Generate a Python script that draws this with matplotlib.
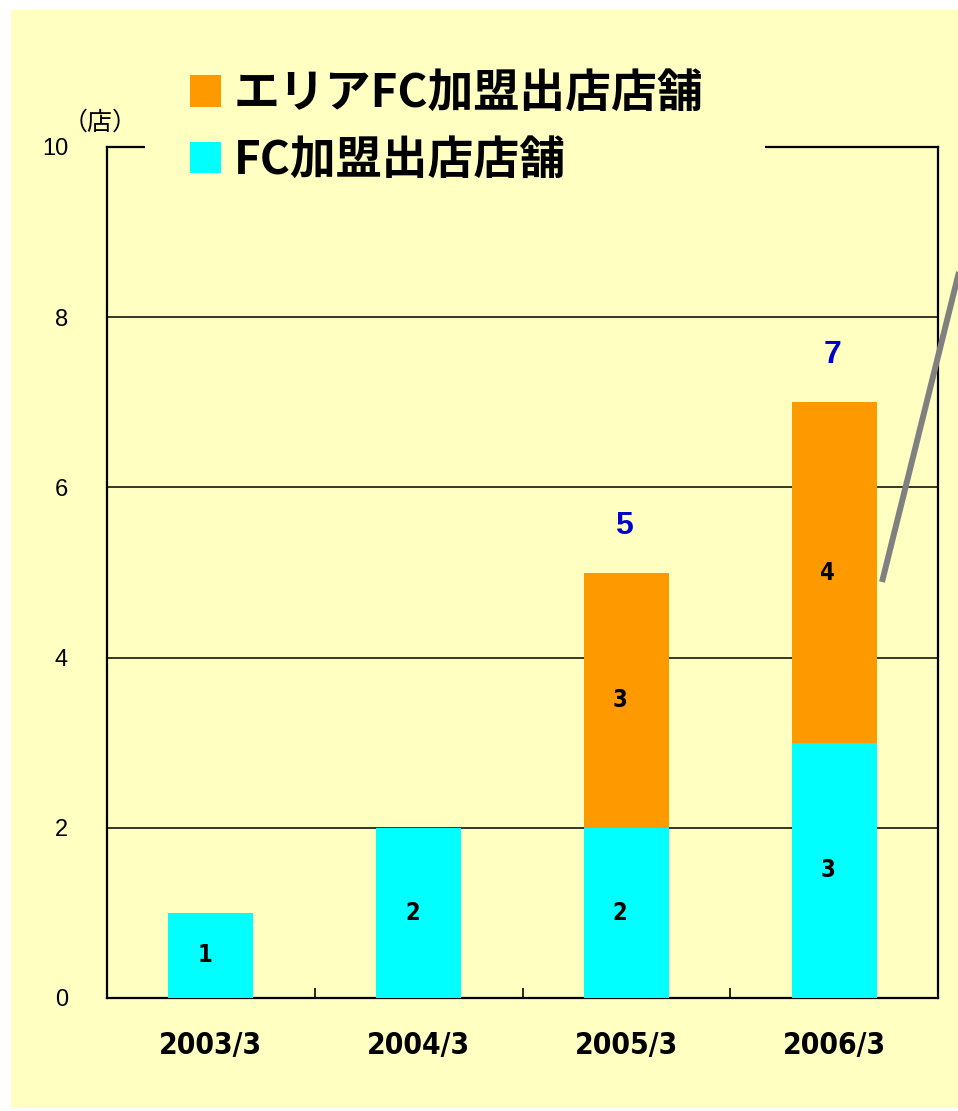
import matplotlib
matplotlib.use("Agg")
import matplotlib.pyplot as plt
from matplotlib import font_manager
from matplotlib.patches import Rectangle
from matplotlib.lines import Line2D
import numpy as np

# data
periods = ["2003/3", "2004/3", "2005/3", "2006/3"]
fc_stores = [1, 2, 2, 3]          # FC加盟出店店舗
area_fc_stores = [0, 0, 3, 4]     # エリアFC加盟出店店舗
totals_shown = [None, None, 5, 7]
yticks = [0, 2, 4, 6, 8, 10]

jp_font = ["Noto Sans CJK JP", "DejaVu Sans"]
BG = "#FFFFC2"
ORANGE = "#FF9900"
CYAN = "#00FFFF"

# a condensed bold face for the digits, if one is around
cond = [f for f in font_manager.fontManager.ttflist
        if f.stretch in ("condensed", "semi-condensed", "extra-condensed") and f.weight in ("bold", 700)]
if cond:
    num_font = dict(family=[cond[0].name, "DejaVu Sans"], fontstretch=cond[0].stretch)
else:
    num_font = dict(family=["Liberation Sans", "DejaVu Sans"])

fig = plt.figure(figsize=(9.58, 11.11), dpi=100)
fig.patch.set_facecolor("white")
# pale yellow panel behind everything
fig.patches.append(Rectangle((11 / 958, 1 - 1108 / 1111), 1 - 11 / 958, (1108 - 10) / 1111,
                             transform=fig.transFigure, facecolor=BG, edgecolor="none", zorder=-5))

ax = fig.add_axes([107 / 958, 1 - 998 / 1111, (938 - 107) / 958, (998 - 147) / 1111])
ax.set_facecolor("none")

x = np.arange(len(periods))
w = 0.41
ax.bar(x, fc_stores, width=w, color=CYAN, zorder=3, label="FC加盟出店店舗")
ax.bar(x, area_fc_stores, width=w, bottom=fc_stores, color=ORANGE, zorder=3, label="エリアFC加盟出店店舗")

# segment labels
for i in range(len(periods)):
    if fc_stores[i]:
        ax.text(x[i] - 0.03, fc_stores[i] / 2, str(fc_stores[i]), ha="center", va="center",
                fontsize=17, fontweight="bold", zorder=4, **num_font)
    if area_fc_stores[i]:
        ax.text(x[i] - 0.03, fc_stores[i] + area_fc_stores[i] / 2, str(area_fc_stores[i]), ha="center",
                va="center", fontsize=17, fontweight="bold", zorder=4, **num_font)
    if totals_shown[i] is not None:
        ax.text(x[i] - 0.01, totals_shown[i] + 0.55, str(totals_shown[i]), ha="center", va="center",
                fontsize=23, fontweight="bold", color="#0000CC", family=["Liberation Sans", "DejaVu Sans"])

ax.set_xlim(-0.5, len(periods) - 0.5)
ax.set_ylim(0, 10)
ax.set_yticks(yticks)
ax.set_yticklabels([str(t) for t in yticks], fontsize=17, family=["Liberation Sans", "DejaVu Sans"])
ax.yaxis.grid(True, color="black", linewidth=1.1)
ax.set_axisbelow(True)
ax.tick_params(axis="y", length=0, pad=28)

ax.set_xticks(x)
ax.set_xticklabels(periods, fontsize=21.5, fontweight="bold", **num_font)
ax.tick_params(axis="x", which="major", length=0, pad=24)
ax.set_xticks(x[:-1] + 0.5, minor=True)
ax.tick_params(axis="x", which="minor", direction="in", length=7, width=1.2)

for s in ax.spines.values():
    s.set_linewidth(1.6)
    s.set_color("black")

# the legend area hides part of the top frame line
ax.add_patch(Rectangle(((145 - 107) / 831, 0.985), (765 - 145) / 831, 0.03, transform=ax.transAxes,
                       facecolor=BG, edgecolor="none", clip_on=False, zorder=6))

ax.text(-0.008, 1.029, "（店）", transform=ax.transAxes, ha="center", va="center",
        fontsize=18, family=jp_font)

handles, labels = ax.get_legend_handles_labels()
leg = ax.legend(handles[::-1], labels[::-1], loc="upper left",
                bbox_to_anchor=(190 / 958, 1 - 71 / 1111), bbox_transform=fig.transFigure,
                prop={"family": jp_font, "weight": "bold", "size": 33},
                handlelength=0.68, handleheight=0.68, handletextpad=0.27,
                labelspacing=0.45, borderpad=0, borderaxespad=0, frameon=False)
leg.set_zorder(10)

# gray leader line running off the right edge
fig.lines.append(Line2D([882 / 958, 960 / 958], [1 - 582 / 1111, 1 - 268 / 1111],
                        transform=fig.transFigure, color="#808080", linewidth=4.3,
                        solid_capstyle="butt", zorder=5))

fig.savefig("out.png", dpi=100)
